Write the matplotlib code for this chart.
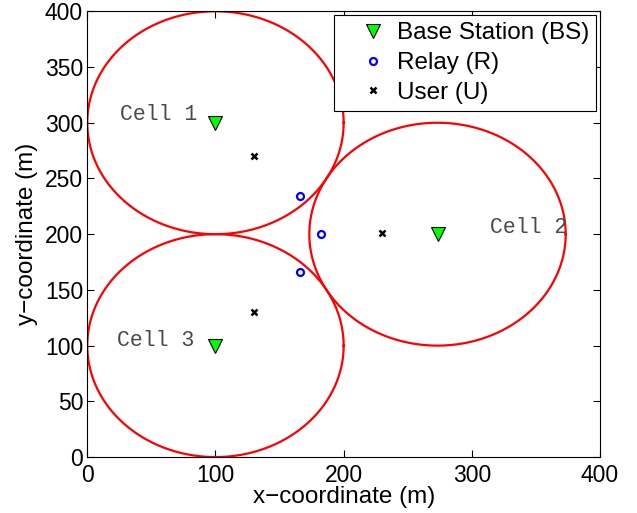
import numpy as np
import matplotlib
matplotlib.use("Agg")
from matplotlib import pyplot as plt

plt.rcParams['font.family'] = ['Liberation Sans', 'DejaVu Sans']

# cells: centre and radius (m)
cell_names = ['Cell 1', 'Cell 2', 'Cell 3']
cell_x = [100, 273.2, 100]
cell_y = [300, 200, 100]
cell_r = [100, 100, 100]
label_x = [56, 344.5, 53]
label_y = [307, 206, 105]

# base stations, relays, users
bs_x = [100, 273.2, 100]
bs_y = [300, 200, 100]
relay_x = [166, 182, 166]
relay_y = [234.5, 200, 166]
user_x = [130, 230, 130]
user_y = [270, 201, 130]

fig = plt.figure(figsize=(6.37, 5.13), dpi=100)
ax = fig.add_axes([0.137, 0.109, 0.805, 0.869])

t = np.linspace(0, 2 * np.pi, 400)
for cx, cy, r in zip(cell_x, cell_y, cell_r):
    ax.plot(cx + r * np.cos(t), cy + r * np.sin(t), color='red', lw=1.6)

ax.plot(bs_x, bs_y, 'v', ms=10.5, mfc='#00ff00', mec='black', mew=0.8,
        ls='none', label='Base Station (BS)')
ax.plot(relay_x, relay_y, 'o', ms=5, mfc='none', mec='blue', mew=1.6,
        ls='none', label='Relay (R)')
ax.plot(user_x, user_y, 'x', ms=4.5, color='black', mew=1.8,
        ls='none', label='User (U)')

for name, lx, ly in zip(cell_names, label_x, label_y):
    ax.text(lx, ly, name, family='Liberation Mono', fontsize=15.5,
            color='#4a4a4a', ha='center', va='center')

ax.set_xlim(0, 400)
ax.set_ylim(0, 400)
ax.set_xticks(range(0, 401, 100))
ax.set_yticks(range(0, 401, 50))
ax.tick_params(direction='in', labelsize=16.5, length=5, top=True, right=True)
ax.tick_params(axis='x', pad=5)
ax.tick_params(axis='y', pad=3)
ax.set_xlabel('x\u2212coordinate (m)', fontsize=17.5, labelpad=-1)
ax.set_ylabel('y\u2212coordinate (m)', fontsize=17.5, labelpad=5)

leg = ax.legend(loc='upper right', fontsize=17.5, fancybox=False,
                edgecolor='black', framealpha=1, handlelength=2.6,
                borderpad=0.3, borderaxespad=0.15, labelspacing=0.32,
                handletextpad=-0.3)
leg.get_frame().set_linewidth(0.8)

plt.savefig('out.png', dpi=100)
